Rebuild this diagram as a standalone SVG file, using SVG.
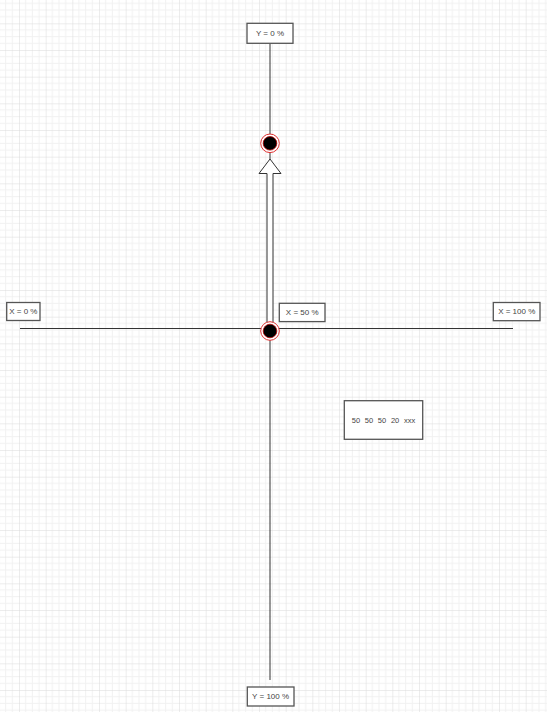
<svg xmlns="http://www.w3.org/2000/svg" width="547" height="712" viewBox="0 0 547 712">
<style>
.box{fill:#ffffff;stroke:#555555;stroke-width:1.3}
.lbl{font-family:"Liberation Sans",Arial,sans-serif;font-size:8px;fill:#444444;text-anchor:middle;dominant-baseline:central}
.axis{stroke:#333333;stroke-width:1;fill:none}
.ring{fill:#ffffff;stroke:#e03030;stroke-width:1}
.dot{fill:#000000;stroke:#b00000;stroke-width:0.8}
</style>
<defs>
<pattern id="grid" patternUnits="userSpaceOnUse" x="19" y="23.333" width="26.667" height="26.667">
<path d="M6.667 0V26.667M13.333 0V26.667M20 0V26.667M0 6.667H26.667M0 13.333H26.667M0 20H26.667" stroke="#f1f1f1" stroke-width="1" fill="none"/>
<path d="M0 0V26.667M0 0H26.667" stroke="#dadada" stroke-width="1" fill="none"/>
</pattern>
</defs>
<rect width="547" height="712" fill="#ffffff"/>
<rect width="547" height="712" fill="url(#grid)"/>
<g id="connectors">
<line class="axis" x1="270" y1="43.3" x2="270" y2="680"/>
<line class="axis" x1="20" y1="328.5" x2="513" y2="328.5"/>
<polygon points="270,159 281,173.5 273,173.5 273,323 267,323 267,173.5 259,173.5" fill="#ffffff" stroke="#333333" stroke-width="1"/>
</g>
<g id="pointTop">
<circle class="ring" cx="270" cy="143.3" r="9.3"/>
<circle class="dot" cx="270" cy="143.3" r="6.8"/>
</g>
<g id="pointCenter">
<circle class="ring" cx="270" cy="331" r="9.3"/>
<circle class="dot" cx="270" cy="331" r="6.8"/>
</g>
<g id="labelY0">
<rect class="box" x="247" y="23.3" width="46" height="20"/>
<text class="lbl" x="270" y="33.5">Y = 0 %</text>
</g>
<g id="labelY100">
<rect class="box" x="247.3" y="687" width="46.7" height="19"/>
<text class="lbl" x="270.6" y="696.7">Y = 100 %</text>
</g>
<g id="labelX0">
<rect class="box" x="6.7" y="302.5" width="33.3" height="18"/>
<text class="lbl" x="23.3" y="311.7">X = 0 %</text>
</g>
<g id="labelX50">
<rect class="box" x="279.3" y="303.3" width="45.7" height="18.3"/>
<text class="lbl" x="302.2" y="312.6">X = 50 %</text>
</g>
<g id="labelX100">
<rect class="box" x="493.3" y="302.5" width="46.7" height="18.2"/>
<text class="lbl" x="516.7" y="311.7">X = 100 %</text>
</g>
<g id="valueBox">
<rect class="box" x="344.3" y="400.7" width="78.4" height="38.6"/>
<text class="lbl" x="383.5" y="420" style="font-size:7.5px;word-spacing:2.6px">50 50 50 20 xxx</text>
</g>
</svg>
